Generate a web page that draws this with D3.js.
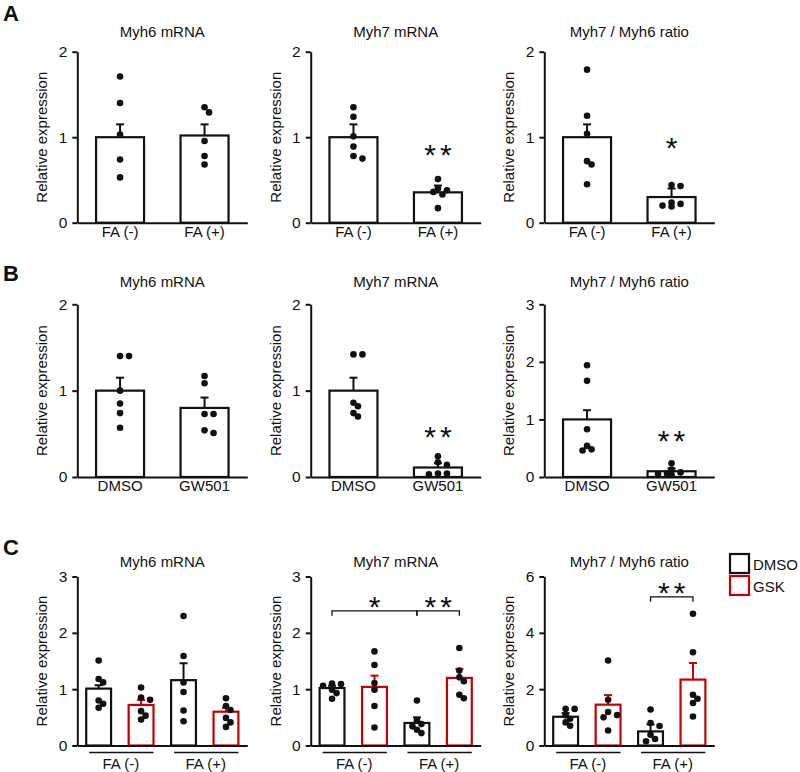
<!DOCTYPE html>
<html>
<head>
<meta charset="utf-8">
<script src="https://cdn.jsdelivr.net/npm/d3@7"></script>
<style>
  body { margin: 0; background: #fff; }
  text { font-family: "Liberation Sans", Arial, sans-serif; fill: #111; }
  .axis path, .axis line { stroke: #111; stroke-width: 2; }
  .axis text { font-size: 15.5px; }
</style>
</head>
<body>
<div id="chart"></div>
<script>
// ---- data ----
const titles = ["Myh6 mRNA", "Myh7 mRNA", "Myh7 / Myh6 ratio"];
const rowLetters = ["A", "B", "C"];

// row A: folic acid
const catsA = ["FA (-)", "FA (+)"];
const meanA = [[1.00, 1.02], [1.00, 0.355], [1.00, 0.30]];
const semA  = [[0.15, 0.13], [0.15, 0.08], [0.15, 0.10]];
const dotsA = [
  [[1.71, 1.40, 1.03, 0.74, 0.53], [1.35, 1.29, 0.955, 0.78, 0.68]],
  [[1.35, 1.24, 1.01, 0.89, 0.78, 0.75], [0.51, 0.40, 0.38, 0.36, 0.33, 0.17]],
  [[1.79, 1.25, 1.04, 0.72, 0.68, 0.45], [0.44, 0.43, 0.235, 0.22, 0.20, 0.19]]
];
const maxA = [2, 2, 2];
const sigA = [
  {panel: 1, bar: 1, label: "**", level: 0.87},
  {panel: 2, bar: 1, label: "*", level: 0.95}
];

// row B: GW501516
const catsB = ["DMSO", "GW501"];
const meanB = [[1.00, 0.80], [1.00, 0.11], [1.00, 0.10]];
const semB  = [[0.15, 0.12], [0.15, 0.05], [0.16, 0.05]];
const dotsB = [
  [[1.40, 1.40, 1.00, 0.85, 0.74, 0.57], [1.17, 1.085, 0.73, 0.73, 0.54, 0.51]],
  [[1.42, 1.42, 0.86, 0.82, 0.74, 0.70], [0.24, 0.17, 0.14, 0.04, 0.03, 0.04]],
  [[1.94, 1.67, 0.83, 0.54, 0.48, 0.46], [0.24, 0.13, 0.08, 0.06, 0.05, 0.04]]
];
const maxB = [2, 2, 3];
const sigB = [
  {panel: 1, bar: 1, label: "**", level: 0.545},
  {panel: 2, bar: 1, label: "**", level: 0.75}
];

// row C: FA x GSK
const catsC = ["DMSO FA(-)", "GSK FA(-)", "DMSO FA(+)", "GSK FA(+)"];
const treatC = ["DMSO", "GSK", "DMSO", "GSK"];
const groupsC = ["FA (-)", "FA (+)"];
const meanC = [[1.01, 0.72, 1.16, 0.60], [1.02, 1.04, 0.40, 1.20], [1.02, 1.45, 0.50, 2.34]];
const semC  = [[0.06, 0.09, 0.30, 0.07], [0.04, 0.20, 0.10, 0.16], [0.13, 0.34, 0.25, 0.59]];
const dotsC = [
  [[1.51, 1.18, 1.12, 0.80, 0.74, 0.67], [1.03, 0.85, 0.81, 0.61, 0.53, 0.46],
   [2.30, 1.59, 1.12, 0.95, 0.62, 0.43], [0.84, 0.70, 0.63, 0.49, 0.41, 0.33]],
  [[1.10, 1.09, 1.06, 0.99, 0.93, 0.83], [1.67, 1.43, 1.11, 0.99, 0.70, 0.32],
   [0.80, 0.45, 0.38, 0.34, 0.28, 0.22], [1.73, 1.33, 1.21, 1.14, 0.90, 0.84]],
  [[1.30, 1.30, 1.07, 0.95, 0.82, 0.70], [3.02, 1.62, 1.19, 1.08, 1.00, 0.53],
   [1.28, 0.80, 0.69, 0.38, 0.23, 0.15], [4.68, 3.31, 1.80, 1.66, 1.51, 1.03]]
];
const maxC = [3, 3, 6];
const ticksC = [[0, 1, 2, 3], [0, 1, 2, 3], [0, 2, 4, 6]];
const bracketsC = [
  {panel: 1, from: 0, to: 2, label: "*", level: 2.39},
  {panel: 1, from: 2, to: 3, label: "**", level: 2.39},
  {panel: 2, from: 2, to: 3, label: "**", level: 5.28}
];
const legendItems = ["DMSO", "GSK"];

// ---- layout ----
const W = 800, H = 772;
const red = "#c40000";
const axisX = [77.3, 310.7, 544.3];
const axisLen = 170;
const rows = [
  {top: 51.7, bottom: 222.7, titleY: 36.5, letterY: 21},
  {top: 304.3, bottom: 477, titleY: 287, letterY: 281},
  {top: 576.5, bottom: 745.5, titleY: 566.5, letterY: 555}
];

const svg = d3.select("#chart").append("svg")
    .attr("width", W)
    .attr("height", H);

svg.append("rect").attr("width", W).attr("height", H).attr("fill", "#fff");

// simple non-random beeswarm: nudge overlapping dots sideways
function swarm(vals, cx, y, r){
    let placed = [];
    let order = vals.map((v, i) => ({v: v, i: i})).sort((a, b) => b.v - a.v);
    let offsets = [0, 4.5, -4.5, 9, -9, 13.5, -13.5];
    order.forEach(d => {
        let py = y(d.v);
        let px = cx;
        for (let o of offsets){
            let ok = placed.every(p => Math.hypot(p.x - (cx + o), p.y - py) >= r * 1.7);
            if (ok){ px = cx + o; break; }
        }
        placed.push({x: px, y: py});
    });
    return placed;
}

function drawPanel(rowIdx, p, cats, means, sems, dots, maxV, tickVals, colors){
    let row = rows[rowIdx];
    let x0 = axisX[p];
    let g = svg.append("g");

    let y = d3.scaleLinear().domain([0, maxV]).range([row.bottom, row.top]);

    let four = cats.length === 4;
    let x = d3.scaleBand()
        .domain(cats)
        .range([x0, x0 + axisLen])
        .paddingInner(four ? 0.4145 : 0.432)
        .paddingOuter(four ? 0.21 : 0.222);

    // title
    g.append("text")
        .attr("x", x0 + axisLen / 2)
        .attr("y", row.titleY)
        .attr("text-anchor", "middle")
        .style("font-size", "15px")
        .text(titles[p]);

    // y label
    g.append("text")
        .attr("transform", `translate(${x0 - 30}, ${(row.top + row.bottom) / 2}) rotate(-90)`)
        .attr("text-anchor", "middle")
        .style("font-size", "15px")
        .text("Relative expression");

    // bars
    g.selectAll(".bar")
        .data(cats)
        .enter()
        .append("rect")
        .attr("x", d => x(d))
        .attr("y", (d, i) => y(means[i]))
        .attr("width", x.bandwidth())
        .attr("height", (d, i) => row.bottom - y(means[i]))
        .attr("fill", "#fff")
        .attr("stroke", (d, i) => colors[i])
        .attr("stroke-width", 2.2);

    // error bars (upper only)
    cats.forEach((c, i) => {
        let cx = x(c) + x.bandwidth() / 2;
        let top = y(means[i] + sems[i]);
        g.append("line")
            .attr("x1", cx).attr("x2", cx)
            .attr("y1", y(means[i])).attr("y2", top)
            .attr("stroke", colors[i]).attr("stroke-width", 2);
        g.append("line")
            .attr("x1", cx - 4).attr("x2", cx + 4)
            .attr("y1", top).attr("y2", top)
            .attr("stroke", colors[i]).attr("stroke-width", 2);
    });

    // dots
    cats.forEach((c, i) => {
        let cx = x(c) + x.bandwidth() / 2;
        let pts = swarm(dots[i], cx, y, 3.3);
        g.selectAll(null)
            .data(pts)
            .enter()
            .append("circle")
            .attr("cx", d => d.x)
            .attr("cy", d => d.y)
            .attr("r", 3.3)
            .attr("fill", "#111");
    });

    // y axis
    g.append("g")
        .attr("class", "axis")
        .attr("transform", `translate(${x0}, 0)`)
        .call(d3.axisLeft(y).tickValues(tickVals).tickFormat(d3.format("d"))
            .tickSize(5).tickSizeOuter(0).tickPadding(5));

    // x axis
    let xa = g.append("g")
        .attr("class", "axis")
        .attr("transform", `translate(0, ${row.bottom})`)
        .call(d3.axisBottom(x).tickSize(0).tickSizeOuter(0).tickPadding(3.5));
    xa.selectAll(".tick line").remove();
    xa.selectAll(".tick text").style("font-size", "15px");
    if (four) xa.selectAll(".tick text").remove();

    return {g: g, x: x, y: y};
}

function drawStars(g, cx, cy, label){
    let sp = label.length > 1 ? 4 : 0;
    g.append("text")
        .attr("x", cx + sp / 2)
        .attr("y", cy + 17)
        .attr("text-anchor", "middle")
        .style("font-size", "30px")
        .style("letter-spacing", sp + "px")
        .text(label);
}

// rows A and B
[[catsA, meanA, semA, dotsA, maxA, sigA], [catsB, meanB, semB, dotsB, maxB, sigB]].forEach((r, ri) => {
    let [cats, means, sems, dots, maxs, sigs] = r;
    let panels = [];
    for (let p = 0; p < 3; p++){
        panels.push(drawPanel(ri, p, cats, means[p], sems[p], dots[p], maxs[p],
            d3.range(0, maxs[p] + 1), ["#111", "#111"]));
    }
    sigs.forEach(s => {
        let pn = panels[s.panel];
        drawStars(pn.g, pn.x(cats[s.bar]) + pn.x.bandwidth() / 2, pn.y(s.level), s.label);
    });
});

// row C
let panelsC = [];
for (let p = 0; p < 3; p++){
    let cols = treatC.map(t => t === "GSK" ? red : "#111");
    let pn = drawPanel(2, p, catsC, meanC[p], semC[p], dotsC[p], maxC[p], ticksC[p], cols);
    panelsC.push(pn);
    // group underlines and labels
    groupsC.forEach((gl, gi) => {
        let a = pn.x(catsC[gi * 2]), b = pn.x(catsC[gi * 2 + 1]) + pn.x.bandwidth();
        pn.g.append("line")
            .attr("x1", a + 3).attr("x2", b)
            .attr("y1", rows[2].bottom + 7).attr("y2", rows[2].bottom + 7)
            .attr("stroke", "#111").attr("stroke-width", 1.3);
        pn.g.append("text")
            .attr("x", (a + b) / 2 + 1)
            .attr("y", rows[2].bottom + 23)
            .attr("text-anchor", "middle")
            .style("font-size", "15px")
            .text(gl);
    });
}

bracketsC.forEach(b => {
    let pn = panelsC[b.panel];
    let xa = pn.x(catsC[b.from]) + pn.x.bandwidth() / 2;
    let xb = pn.x(catsC[b.to]) + pn.x.bandwidth() / 2;
    let ly = pn.y(b.level);
    pn.g.append("path")
        .attr("d", `M${xa},${ly + 5}V${ly}H${xb}V${ly + 5}`)
        .attr("fill", "none")
        .attr("stroke", "#111")
        .attr("stroke-width", 1.3);
    drawStars(pn.g, (xa + xb) / 2, ly - 11, b.label);
});

// row letters
rowLetters.forEach((l, i) => {
    svg.append("text")
        .attr("x", 3)
        .attr("y", rows[i].letterY)
        .style("font-size", "22px")
        .style("font-weight", "bold")
        .text(l);
});

// legend
let legend = svg.append("g").attr("transform", "translate(730, 554)");
legendItems.forEach((l, i) => {
    legend.append("rect")
        .attr("x", 0).attr("y", i * 22)
        .attr("width", 19).attr("height", 19)
        .attr("fill", "#fff")
        .attr("stroke", i === 0 ? "#111" : red)
        .attr("stroke-width", 2.2);
    legend.append("text")
        .attr("x", 23).attr("y", i * 22 + 15.5)
        .style("font-size", "15px")
        .text(l);
});
</script>
</body>
</html>
